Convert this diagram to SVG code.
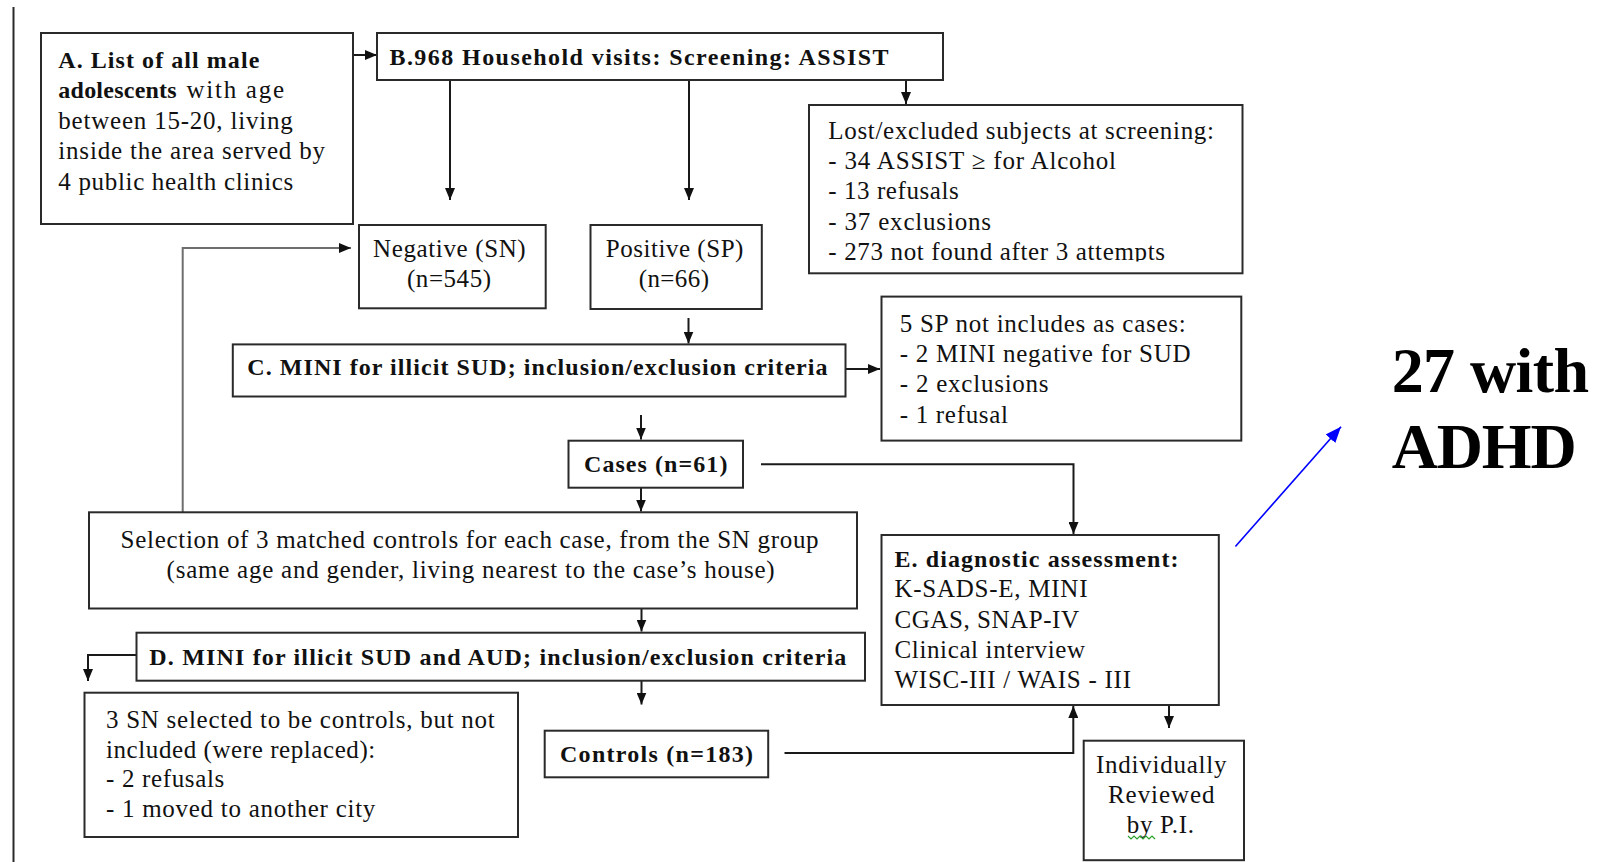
<svg xmlns="http://www.w3.org/2000/svg" width="1603" height="862" viewBox="0 0 1603 862">
<style>
  .box { fill: #ffffff; stroke: #2a2a2a; stroke-width: 2; }
  .t { font-family: "Liberation Serif", "Times New Roman", serif; font-size: 25px; fill: #111; }
  .b { font-weight: bold; font-size: 24px; }
  .big { font-family: "Liberation Serif", "Times New Roman", serif; font-size: 64px; font-weight: bold; fill: #000; }
  .ln { fill: none; stroke: #1a1a1a; stroke-width: 2; marker-end: url(#ah); }
  .gray { fill: none; stroke: #6e6e6e; stroke-width: 2; marker-end: url(#ah); }
  .blue { fill: none; stroke: #0000ff; stroke-width: 1.6; marker-end: url(#bh); }
</style>
<defs>
  <marker id="ah" markerUnits="userSpaceOnUse" markerWidth="12" markerHeight="10" refX="12" refY="5" orient="auto">
    <path d="M0,0 L12,5 L0,10 z" fill="#111"/>
  </marker>
  <marker id="bh" markerUnits="userSpaceOnUse" markerWidth="16" markerHeight="13" refX="16" refY="6.5" orient="auto">
    <path d="M0,0 L16,6.5 L0,13 z" fill="#0000ff"/>
  </marker>
  <clipPath id="lostclip"><rect x="809" y="105" width="434" height="156.5"/></clipPath>
</defs>
<rect width="1603" height="862" fill="#ffffff"/>

<line x1="13.5" y1="7" x2="13.5" y2="862" stroke="#2a2a2a" stroke-width="2"/>

<g id="connectors">
  <path class="ln" d="M353,55 H377"/>
  <path class="ln" d="M450,80 V200"/>
  <path class="ln" d="M689,80 V200"/>
  <path class="ln" d="M906,80 V104"/>
  <path class="ln" d="M688.5,318 V343.5"/>
  <path class="ln" d="M830,369 H880"/>
  <path class="ln" d="M641,415 V439.5"/>
  <path class="ln" d="M761,464.3 H1073.5 V534"/>
  <path class="ln" d="M641,488 V511.5"/>
  <path class="gray" d="M182.7,512 V248 H351"/>
  <path class="ln" d="M641.5,608.5 V631.5"/>
  <path class="ln" d="M136.5,655 H88 V681"/>
  <path class="ln" d="M641.5,681 V704.5"/>
  <path class="ln" d="M784.5,753 H1073.3 V706"/>
  <path class="ln" d="M1169,705 V728"/>
  <path class="blue" d="M1235.4,546.5 L1341,426.7"/>
</g>

<g id="nodeA">
  <rect class="box" x="41" y="33" width="312" height="191"/>
  <text class="t b" x="58.3" y="67.5" textLength="201">A. List of all male</text>
  <text class="t b" x="58.3" y="98" textLength="118.4">adolescents</text>
  <text class="t" x="186.5" y="98" textLength="97.5">with age</text>
  <text class="t" x="58.3" y="128.5" textLength="234.4">between 15-20, living</text>
  <text class="t" x="58.3" y="159" textLength="266.7">inside the area served by</text>
  <text class="t" x="58.3" y="189.5" textLength="235">4 public health clinics</text>
</g>

<g id="nodeB">
  <rect class="box" x="377" y="33" width="566" height="47"/>
  <text class="t b" x="389.5" y="65" textLength="499">B.968 Household visits: Screening: ASSIST</text>
</g>

<g id="nodeNegative">
  <rect class="box" x="359" y="225" width="186.7" height="83.3"/>
  <text class="t" x="373" y="257" textLength="152.7">Negative (SN)</text>
  <text class="t" x="407" y="286.7" textLength="84">(n=545)</text>
</g>

<g id="nodePositive">
  <rect class="box" x="590.5" y="225" width="171.3" height="84"/>
  <text class="t" x="605.7" y="257" textLength="137.7">Positive (SP)</text>
  <text class="t" x="638.7" y="286.7" textLength="70.3">(n=66)</text>
</g>

<g id="nodeLost">
  <rect class="box" x="809" y="105" width="433.5" height="168.3"/>
  <g clip-path="url(#lostclip)">
    <text class="t" x="828.3" y="138.5" textLength="385.7">Lost/excluded subjects at screening:</text>
    <text class="t" x="828.3" y="168.8" textLength="287.7">- 34 ASSIST ≥ for Alcohol</text>
    <text class="t" x="828.3" y="199.2" textLength="130.4">- 13 refusals</text>
    <text class="t" x="828.3" y="229.6" textLength="162.7">- 37 exclusions</text>
    <text class="t" x="828.3" y="260" textLength="336.7">- 273 not found after 3  attempts</text>
  </g>
</g>

<g id="nodeC">
  <rect class="box" x="232.8" y="344.4" width="612.7" height="52.1"/>
  <text class="t b" x="247.3" y="375" textLength="580.2">C. MINI for illicit SUD; inclusion/exclusion criteria</text>
</g>

<g id="node5SP">
  <rect class="box" x="881.5" y="296.6" width="359.8" height="144"/>
  <text class="t" x="899.8" y="331.5" textLength="286">5 SP not includes as cases:</text>
  <text class="t" x="899.8" y="361.8" textLength="290.7">- 2 MINI negative for SUD</text>
  <text class="t" x="899.8" y="392.2" textLength="148.8">- 2 exclusions</text>
  <text class="t" x="899.8" y="422.6" textLength="108.2">- 1 refusal</text>
</g>

<g id="nodeCases">
  <rect class="box" x="568.5" y="440.7" width="174.5" height="47"/>
  <text class="t b" x="584" y="471.7" textLength="143.4">Cases (n=61)</text>
</g>

<g id="nodeSelection">
  <rect class="box" x="89" y="512.3" width="768" height="96.2"/>
  <text class="t" x="120.6" y="548.3" textLength="698">Selection of 3 matched controls for each case, from the SN group</text>
  <text class="t" x="166.6" y="577.5" textLength="608">(same age and gender, living nearest to the case’s house)</text>
</g>

<g id="nodeD">
  <rect class="box" x="136.5" y="632.7" width="728.5" height="48"/>
  <text class="t b" x="149.3" y="665" textLength="697">D. MINI for illicit SUD and AUD; inclusion/exclusion criteria</text>
</g>

<g id="node3SN">
  <rect class="box" x="84.5" y="692.7" width="433.5" height="144.3"/>
  <text class="t" x="106" y="728" textLength="388.7">3 SN selected to be controls, but not</text>
  <text class="t" x="106" y="757.5" textLength="269.3">included (were replaced):</text>
  <text class="t" x="106" y="787" textLength="118.3">- 2 refusals</text>
  <text class="t" x="106" y="816.5" textLength="269.3">- 1  moved to another city</text>
</g>

<g id="nodeControls">
  <rect class="box" x="544.7" y="730.7" width="223.5" height="46.6"/>
  <text class="t b" x="560" y="761.7" textLength="193">Controls (n=183)</text>
</g>

<g id="nodeE">
  <rect class="box" x="881.5" y="535" width="337.3" height="170"/>
  <text class="t b" x="894.5" y="566.7" textLength="284">E. diagnostic assessment:</text>
  <text class="t" x="894.5" y="597" textLength="193">K-SADS-E, MINI</text>
  <text class="t" x="894.5" y="628" textLength="184.5">CGAS, SNAP-IV</text>
  <text class="t" x="894.5" y="658.3" textLength="190.5">Clinical interview</text>
  <text class="t" x="894.5" y="688.3" textLength="236.5">WISC-III / WAIS - III</text>
</g>

<g id="nodeReviewed">
  <rect class="box" x="1083.7" y="740.7" width="160.3" height="119.5"/>
  <text class="t" x="1096" y="773.3" textLength="130.4">Individually</text>
  <text class="t" x="1108" y="803.3" textLength="106.5">Reviewed</text>
  <text class="t" x="1126.8" y="833.3" textLength="67.2">by P.I.</text>
  <polyline points="1128,836 1131,839 1134,836 1137,839 1140,836 1143,839 1146,836 1149,839 1152,836 1155,839" fill="none" stroke="#2aa02a" stroke-width="1.2"/>
</g>

<g id="nodeADHD">
  <text class="big" x="1391.7" y="391.7" textLength="197.3">27 with</text>
  <text class="big" x="1391.7" y="468.3" textLength="185">ADHD</text>
</g>
</svg>
